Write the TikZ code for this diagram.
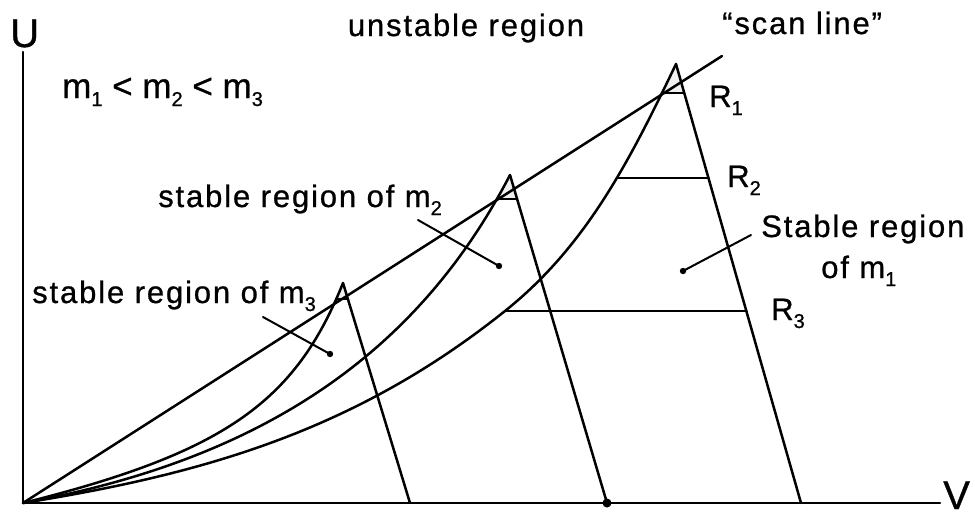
\documentclass[tikz,border=0pt]{standalone}
\usepackage{fontspec}
\newfontfamily\lab[LetterSpace=6,FakeBold=0.8]{Liberation Sans}
\newfontfamily\axlab[FakeBold=0.8]{Liberation Sans}
\newcommand\lsub[1]{\raisebox{-8pt}{\fontsize{20}{20}\selectfont #1}}
\begin{document}
\begin{tikzpicture}[x=1pt,y=-1pt, line width=2.5pt, line join=round, line cap=round,
  lbl/.style={inner sep=0pt, anchor=base west, font=\lab\fontsize{31}{36}\selectfont},
  biglbl/.style={inner sep=0pt, anchor=base west, font=\axlab\fontsize{35}{40}\selectfont},
  axl/.style={inner sep=0pt, anchor=base west, font=\axlab\fontsize{40}{44}\selectfont},
  apexfill/.style={fill=black!6, draw=none},
  leaderdot/.style={fill=black, draw=none}]
\useasboundingbox (0,0) rectangle (975,517);
% key points
\coordinate (O) at (23,503);
\coordinate (Utop) at (23,52);
\coordinate (Vend) at (940,503);
\coordinate (S) at (722,56);
% m1
\coordinate (A1) at (676,64);
\coordinate (B1) at (801,503);
\coordinate (M1) at (505,311);
\coordinate (T1l) at (662,93);
\coordinate (T1r) at (684,93);
\coordinate (R2l) at (617,178);
\coordinate (R2r) at (708.5,178);
\coordinate (R3r) at (746.5,311);
% m2
\coordinate (A2) at (510,175);
\coordinate (B2) at (607,503);
\coordinate (T2l) at (497.5,199);
\coordinate (T2r) at (517,199);
% m3
\coordinate (A3) at (343,283);
\coordinate (B3) at (410,503);
\coordinate (T3l) at (336.6,299);
\coordinate (T3r) at (348,299);
% apex fills
\fill[apexfill] (T1l) -- (A1) -- (T1r) -- cycle;
\fill[apexfill] (T2l) -- (A2) -- (T2r) -- cycle;
\fill[apexfill] (T3l) -- (A3) -- (T3r) -- cycle;
% axes
\draw (Utop) -- (O) -- (Vend);
% scan line
\draw (O) -- (S);
% curves
\draw (O) .. controls (203,474.2) and (355,431) .. (M1)
          .. controls (585,247) and (628.2,164) .. (A1);
\draw (O) .. controls (273,458) and (421.6,345) .. (A2);
\draw (O) .. controls (223,453) and (295,403) .. (A3);
% right edges
\draw (A1) -- (B1);
\draw (A2) -- (B2);
\draw (A3) -- (B3);
% ticks
\draw (T1l) -- (T1r);
\draw (T2l) -- (T2r);
\draw (T3l) -- (T3r);
% R lines
\draw (R2l) -- (R2r);
\draw (M1) -- (R3r);
% axis dot
\fill (B2) circle (4.5);
% leaders
\coordinate (L3a) at (263,317);
\coordinate (L3b) at (330,354);
\coordinate (L2a) at (418,220);
\coordinate (L2b) at (499,266);
\coordinate (L1a) at (751,235);
\coordinate (L1b) at (683,271);
\draw[line width=2pt] (L3a) -- (L3b);
\draw[line width=2pt] (L2a) -- (L2b);
\draw[line width=2pt] (L1a) -- (L1b);
\fill[leaderdot] (L3b) circle (3.2);
\fill[leaderdot] (L2b) circle (3.2);
\fill[leaderdot] (L1b) circle (3.2);
% labels
\node[axl] (Ulab) at (9,47) {U};
\node[axl] (Vlab) at (942,509) {V};
\node[lbl, anchor=base] (unst) at (466,36) {unstable region};
\node[lbl] (scan) at (721,34) {“scan line”};
\node[biglbl] (order) at (61,98) {m\lsub{1} < m\lsub{2} < m\lsub{3}};
\node[lbl] (sr2) at (157,207) {stable region of m\lsub{2}};
\node[lbl] (sr3) at (31,303) {stable region of m\lsub{3}};
\node[lbl] (sr1a) at (760,237) {Stable region};
\node[lbl] (sr1b) at (820,278) {of m\lsub{1}};
\node[lbl] (r1) at (708,107) {R\lsub{1}};
\node[lbl] (r2) at (726,187) {R\lsub{2}};
\node[lbl] (r3) at (770,320) {R\lsub{3}};
\end{tikzpicture}
\end{document}
